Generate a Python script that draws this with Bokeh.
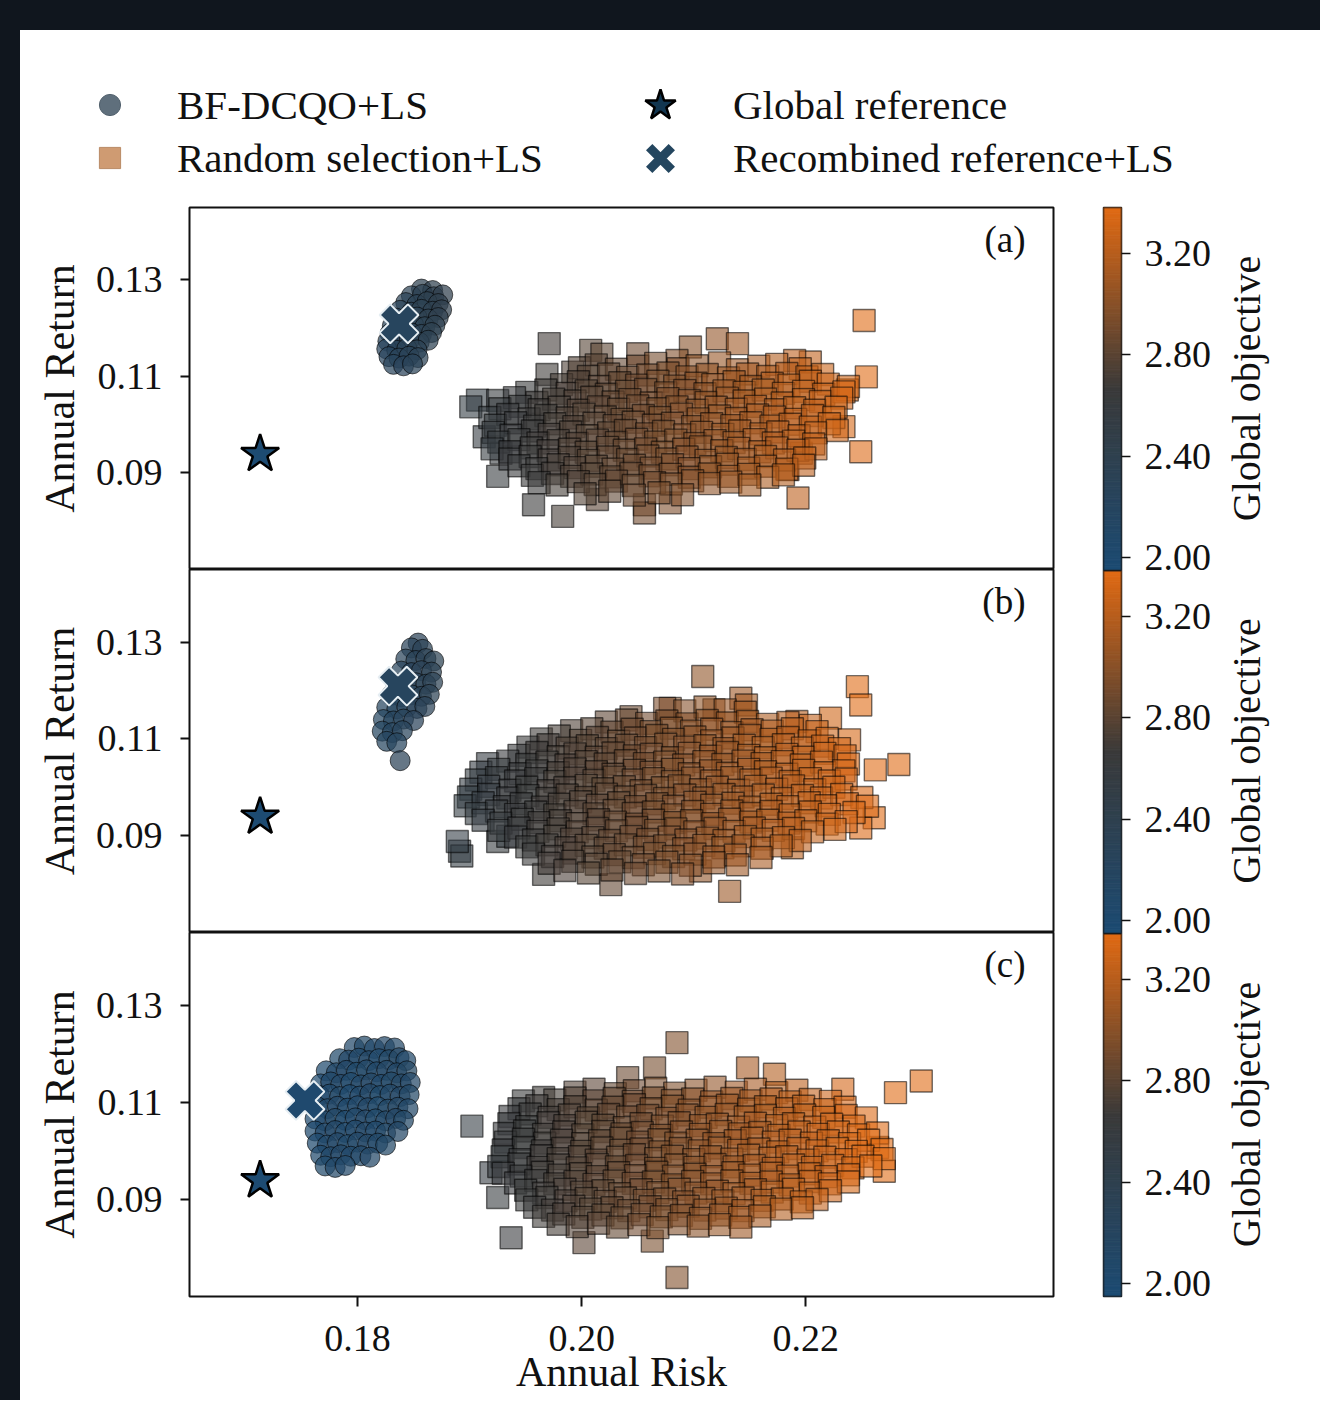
import math
import numpy as np
from bokeh.plotting import figure
from bokeh.models import (Range1d, LinearAxis, FixedTicker, NumeralTickFormatter, CustomJSTickFormatter,
                          ColumnDataSource, Label, Legend, LegendItem, Div)
from bokeh.layouts import column, row
from bokeh.transform import linear_cmap
from bokeh.embed import file_html
from bokeh.resources import INLINE

FONT = "Liberation Serif"
DARK = "#10161e"
INK = "#111111"

# ---------------- axes / scales ----------------
X_START, X_END = 0.165, 0.2421
Y_START, Y_END = 0.0700, 0.1450
X_TICKS = [0.18, 0.20, 0.22]
Y_TICKS = [0.09, 0.11, 0.13]
CB_LOW, CB_HIGH = 1.95, 3.38
CB_TICKS = [2.00, 2.40, 2.80, 3.20]
PANEL_TAGS = ["(a)", "(b)", "(c)"]
SERIES_LABELS = ["BF-DCQO+LS", "Random selection+LS", "Global reference", "Recombined reference+LS"]
X_LABEL, Y_LABEL, CB_LABEL = "Annual Risk", "Annual Return", "Global objective"

# colormap anchors (low -> mid -> high)
C_LO, C_MID, C_HI = (28, 75, 115), (58, 58, 58), (224, 106, 20)

# ---------------- data: (annual risk, annual return, global objective) ----------------
GLOBAL_REF = (0.1713, 0.0939, 1.97)
RECOMBINED = [(0.1837, 0.1209, 2.22), (0.1836, 0.1209, 2.22), (0.1753, 0.1104, 2.02)]

A_BF = [
    (0.1857, 0.1281, 2.38), (0.1867, 0.1278, 2.41),
    (0.1848, 0.1267, 2.33), (0.1858, 0.1270, 2.36), (0.1868, 0.1265, 2.40), (0.1876, 0.1269, 2.43),
    (0.1843, 0.1253, 2.31), (0.1853, 0.1249, 2.34), (0.1862, 0.1255, 2.37), (0.1872, 0.1251, 2.41),
    (0.1838, 0.1237, 2.29), (0.1848, 0.1233, 2.32), (0.1857, 0.1239, 2.35), (0.1867, 0.1235, 2.38), (0.1875, 0.1238, 2.42),
    (0.1834, 0.1221, 2.27), (0.1844, 0.1218, 2.30), (0.1853, 0.1223, 2.33), (0.1863, 0.1219, 2.37), (0.1872, 0.1222, 2.40),
    (0.1831, 0.1205, 2.26), (0.1840, 0.1202, 2.29), (0.1850, 0.1207, 2.32), (0.1860, 0.1203, 2.35), (0.1869, 0.1206, 2.38),
    (0.1829, 0.1189, 2.25), (0.1838, 0.1186, 2.28), (0.1848, 0.1190, 2.31), (0.1857, 0.1187, 2.34), (0.1866, 0.1191, 2.37),
    (0.1827, 0.1173, 2.24), (0.1836, 0.1170, 2.27), (0.1846, 0.1174, 2.30), (0.1855, 0.1171, 2.33), (0.1863, 0.1175, 2.36),
    (0.1826, 0.1157, 2.23), (0.1835, 0.1154, 2.26), (0.1844, 0.1158, 2.29), (0.1853, 0.1155, 2.32),
    (0.1828, 0.1141, 2.23), (0.1837, 0.1138, 2.26), (0.1846, 0.1142, 2.29), (0.1854, 0.1139, 2.31),
    (0.1832, 0.1125, 2.24), (0.1841, 0.1122, 2.27), (0.1849, 0.1126, 2.29),
]

B_BF = [
    (0.1854, 0.1298, 2.30),
    (0.1848, 0.1288, 2.28), (0.1858, 0.1285, 2.31),
    (0.1843, 0.1265, 2.26), (0.1852, 0.1262, 2.29), (0.1861, 0.1266, 2.32), (0.1868, 0.1261, 2.35),
    (0.1839, 0.1240, 2.24), (0.1848, 0.1237, 2.27), (0.1857, 0.1241, 2.30), (0.1866, 0.1238, 2.33),
    (0.1834, 0.1215, 2.22), (0.1843, 0.1212, 2.25), (0.1852, 0.1216, 2.28), (0.1861, 0.1213, 2.31), (0.1867, 0.1217, 2.34),
    (0.1830, 0.1190, 2.20), (0.1839, 0.1187, 2.23), (0.1848, 0.1191, 2.26), (0.1857, 0.1188, 2.29), (0.1864, 0.1192, 2.32),
    (0.1826, 0.1165, 2.19), (0.1835, 0.1162, 2.22), (0.1844, 0.1166, 2.25), (0.1853, 0.1163, 2.28), (0.1860, 0.1167, 2.30),
    (0.1823, 0.1140, 2.18), (0.1832, 0.1137, 2.21), (0.1841, 0.1141, 2.24), (0.1850, 0.1138, 2.27),
    (0.1822, 0.1116, 2.18), (0.1831, 0.1113, 2.21), (0.1840, 0.1117, 2.24),
    (0.1826, 0.1095, 2.19), (0.1835, 0.1092, 2.22),
    (0.1838, 0.1055, 2.30),
]

C_BF = [
    (0.1797, 0.1213, 2.08), (0.1806, 0.1216, 2.10), (0.1815, 0.1211, 2.06), (0.1824, 0.1215, 2.12), (0.1833, 0.1212, 2.09),
    (0.1784, 0.1190, 2.05), (0.1792, 0.1187, 2.11), (0.1801, 0.1191, 2.07), (0.1810, 0.1186, 2.13), (0.1819, 0.1190, 2.04),
    (0.1828, 0.1188, 2.10), (0.1837, 0.1192, 2.14), (0.1843, 0.1186, 2.08),
    (0.1772, 0.1165, 2.03), (0.1781, 0.1161, 2.09), (0.1790, 0.1166, 2.12), (0.1799, 0.1162, 2.05), (0.1808, 0.1167, 2.10),
    (0.1817, 0.1163, 2.07), (0.1826, 0.1166, 2.13), (0.1835, 0.1161, 2.09), (0.1844, 0.1165, 2.15),
    (0.1767, 0.1138, 2.02), (0.1776, 0.1142, 2.08), (0.1785, 0.1137, 2.11), (0.1794, 0.1141, 2.04), (0.1803, 0.1136, 2.09),
    (0.1812, 0.1140, 2.13), (0.1821, 0.1137, 2.06), (0.1830, 0.1142, 2.10), (0.1839, 0.1138, 2.14), (0.1847, 0.1141, 2.11),
    (0.1766, 0.1114, 2.01), (0.1775, 0.1117, 2.06), (0.1784, 0.1112, 2.10), (0.1793, 0.1116, 2.03), (0.1802, 0.1113, 2.08),
    (0.1811, 0.1118, 2.12), (0.1820, 0.1114, 2.05), (0.1829, 0.1117, 2.09), (0.1838, 0.1112, 2.13), (0.1846, 0.1116, 2.10),
    (0.1764, 0.1091, 2.02), (0.1773, 0.1087, 2.07), (0.1782, 0.1092, 2.11), (0.1791, 0.1088, 2.04), (0.1800, 0.1093, 2.08),
    (0.1809, 0.1089, 2.12), (0.1818, 0.1091, 2.05), (0.1827, 0.1086, 2.10), (0.1836, 0.1090, 2.14), (0.1845, 0.1087, 2.09),
    (0.1762, 0.1066, 2.01), (0.1771, 0.1062, 2.06), (0.1780, 0.1067, 2.10), (0.1789, 0.1063, 2.03), (0.1798, 0.1068, 2.08),
    (0.1807, 0.1064, 2.12), (0.1816, 0.1066, 2.05), (0.1825, 0.1062, 2.09), (0.1834, 0.1067, 2.13), (0.1841, 0.1063, 2.10),
    (0.1762, 0.1041, 2.02), (0.1771, 0.1037, 2.07), (0.1780, 0.1042, 2.11), (0.1789, 0.1038, 2.04), (0.1798, 0.1043, 2.08),
    (0.1807, 0.1039, 2.12), (0.1816, 0.1041, 2.06), (0.1825, 0.1037, 2.10), (0.1836, 0.1040, 2.13),
    (0.1764, 0.1016, 2.03), (0.1773, 0.1012, 2.08), (0.1782, 0.1017, 2.11), (0.1791, 0.1013, 2.05), (0.1800, 0.1018, 2.09),
    (0.1809, 0.1014, 2.12), (0.1818, 0.1016, 2.07), (0.1825, 0.1012, 2.10),
    (0.1767, 0.0991, 2.04), (0.1776, 0.0988, 2.08), (0.1785, 0.0992, 2.11), (0.1794, 0.0989, 2.06), (0.1803, 0.0990, 2.09),
    (0.1811, 0.0987, 2.12),
    (0.1771, 0.0969, 2.05), (0.1780, 0.0966, 2.09), (0.1789, 0.0970, 2.07),
]

A_RANDOM = [
    (0.2252, 0.1216, 3.38), (0.1971, 0.1168, 2.70), (0.2008, 0.1154, 2.78), (0.2018, 0.1146, 2.81),
    (0.2050, 0.1147, 2.88), (0.2097, 0.1161, 3.00), (0.2121, 0.1178, 3.05), (0.2139, 0.1168, 3.10),
    (0.1969, 0.1104, 2.69), (0.1992, 0.1109, 2.74), (0.2085, 0.1133, 2.97), (0.2204, 0.1130, 3.25),
    (0.2190, 0.1133, 3.22), (0.2254, 0.1099, 3.38), (0.2237, 0.1072, 3.34), (0.1907, 0.1051, 2.52),
    (0.1901, 0.1037, 2.53), (0.1913, 0.0975, 2.57), (0.1925, 0.0893, 2.60), (0.1928, 0.0941, 2.60),
    (0.1957, 0.0834, 2.66), (0.1983, 0.0810, 2.72), (0.2014, 0.0845, 2.80), (0.2056, 0.0834, 2.90),
    (0.2079, 0.0838, 2.95), (0.2056, 0.0817, 2.90), (0.2193, 0.0848, 3.22), (0.2249, 0.0944, 3.36),
    (0.2234, 0.0996, 3.33), (0.2184, 0.0907, 3.20), (0.2196, 0.0941, 3.23),
    (0.1998, 0.1118, 2.76), (0.2013, 0.1124, 2.79), (0.2031, 0.1115, 2.84), (0.2050, 0.1121, 2.88),
    (0.2066, 0.1127, 2.92), (0.2086, 0.1116, 2.97), (0.2103, 0.1122, 3.01), (0.2123, 0.1128, 3.06),
    (0.2139, 0.1114, 3.10), (0.2158, 0.1121, 3.14), (0.2174, 0.1125, 3.18), (0.2195, 0.1116, 3.23),
    (0.2006, 0.1100, 2.78), (0.2024, 0.1105, 2.82), (0.2041, 0.1098, 2.86), (0.2059, 0.1103, 2.90),
    (0.2077, 0.1107, 2.94), (0.2094, 0.1099, 2.99), (0.2112, 0.1104, 3.03), (0.2131, 0.1097, 3.08),
    (0.2148, 0.1105, 3.12), (0.2166, 0.1100, 3.16), (0.2183, 0.1106, 3.20), (0.2201, 0.1099, 3.24),
    (0.2215, 0.1104, 3.28),
    (0.1982, 0.1083, 2.72), (0.1997, 0.1089, 2.75), (0.2016, 0.1079, 2.80), (0.2034, 0.1087, 2.84),
    (0.2049, 0.1082, 2.88), (0.2068, 0.1090, 2.92), (0.2083, 0.1080, 2.96), (0.2102, 0.1086, 3.01),
    (0.2117, 0.1083, 3.04), (0.2136, 0.1089, 3.09), (0.2151, 0.1079, 3.12), (0.2170, 0.1086, 3.17),
    (0.2185, 0.1082, 3.21), (0.2204, 0.1090, 3.25), (0.2220, 0.1084, 3.29), (0.2238, 0.1079, 3.33),
    (0.1951, 0.1067, 2.65), (0.1968, 0.1072, 2.69), (0.1987, 0.1065, 2.73), (0.2004, 0.1070, 2.77),
    (0.2022, 0.1063, 2.82), (0.2040, 0.1069, 2.86), (0.2057, 0.1073, 2.90), (0.2075, 0.1066, 2.94),
    (0.2092, 0.1071, 2.98), (0.2110, 0.1064, 3.02), (0.2127, 0.1070, 3.07), (0.2145, 0.1067, 3.11),
    (0.2162, 0.1072, 3.15), (0.2180, 0.1065, 3.19), (0.2198, 0.1069, 3.23), (0.2216, 0.1063, 3.28),
    (0.2234, 0.1068, 3.32),
    (0.1925, 0.1050, 2.60), (0.1940, 0.1056, 2.63), (0.1960, 0.1046, 2.68), (0.1975, 0.1053, 2.71),
    (0.1994, 0.1049, 2.75), (0.2009, 0.1057, 2.79), (0.2028, 0.1047, 2.83), (0.2043, 0.1052, 2.87),
    (0.2062, 0.1045, 2.91), (0.2077, 0.1054, 2.95), (0.2096, 0.1050, 2.99), (0.2111, 0.1046, 3.03),
    (0.2130, 0.1055, 3.07), (0.2145, 0.1049, 3.11), (0.2164, 0.1053, 3.15), (0.2179, 0.1045, 3.19),
    (0.2198, 0.1052, 3.23), (0.2213, 0.1048, 3.27), (0.2232, 0.1055, 3.32),
    (0.1927, 0.1033, 2.60), (0.1945, 0.1038, 2.64), (0.1962, 0.1031, 2.68), (0.1980, 0.1036, 2.72),
    (0.1997, 0.1030, 2.76), (0.2015, 0.1037, 2.80), (0.2033, 0.1032, 2.84), (0.2050, 0.1039, 2.88),
    (0.2068, 0.1033, 2.92), (0.2085, 0.1037, 2.97), (0.2103, 0.1030, 3.01), (0.2120, 0.1036, 3.05),
    (0.2138, 0.1032, 3.09), (0.2155, 0.1038, 3.13), (0.2173, 0.1031, 3.17), (0.2190, 0.1035, 3.21),
    (0.2208, 0.1030, 3.25), (0.2227, 0.1036, 3.30),
    (0.1918, 0.1015, 2.58), (0.1934, 0.1021, 2.62), (0.1953, 0.1012, 2.66), (0.1968, 0.1019, 2.69),
    (0.1987, 0.1014, 2.74), (0.2002, 0.1022, 2.77), (0.2021, 0.1016, 2.82), (0.2036, 0.1011, 2.85),
    (0.2055, 0.1019, 2.90), (0.2070, 0.1015, 2.93), (0.2089, 0.1022, 2.98), (0.2104, 0.1012, 3.01),
    (0.2123, 0.1018, 3.06), (0.2138, 0.1013, 3.09), (0.2157, 0.1020, 3.14), (0.2172, 0.1016, 3.17),
    (0.2191, 0.1011, 3.22), (0.2206, 0.1019, 3.25), (0.2225, 0.1015, 3.30),
    (0.1923, 0.0999, 2.59), (0.1941, 0.1004, 2.63), (0.1958, 0.0997, 2.67), (0.1976, 0.1002, 2.71),
    (0.1993, 0.0996, 2.75), (0.2011, 0.1003, 2.79), (0.2029, 0.0998, 2.83), (0.2046, 0.1005, 2.87),
    (0.2064, 0.0999, 2.91), (0.2081, 0.1003, 2.95), (0.2099, 0.0996, 2.99), (0.2116, 0.1002, 3.04),
    (0.2134, 0.0998, 3.08), (0.2151, 0.1004, 3.12), (0.2169, 0.0997, 3.16), (0.2186, 0.1001, 3.20),
    (0.2204, 0.0995, 3.24), (0.2221, 0.1002, 3.28),
    (0.1921, 0.0984, 2.59), (0.1937, 0.0978, 2.62), (0.1956, 0.0987, 2.67), (0.1971, 0.0980, 2.70),
    (0.1990, 0.0985, 2.74), (0.2005, 0.0977, 2.78), (0.2024, 0.0983, 2.82), (0.2039, 0.0988, 2.86),
    (0.2058, 0.0981, 2.90), (0.2073, 0.0986, 2.93), (0.2092, 0.0979, 2.98), (0.2107, 0.0984, 3.01),
    (0.2126, 0.0980, 3.06), (0.2141, 0.0987, 3.09), (0.2160, 0.0981, 3.14), (0.2175, 0.0985, 3.17),
    (0.2194, 0.0977, 3.22), (0.2209, 0.0983, 3.25), (0.2228, 0.0988, 3.30),
    (0.1926, 0.0964, 2.60), (0.1944, 0.0969, 2.64), (0.1961, 0.0962, 2.68), (0.1979, 0.0967, 2.72),
    (0.1996, 0.0961, 2.76), (0.2014, 0.0968, 2.80), (0.2031, 0.0963, 2.84), (0.2049, 0.0970, 2.88),
    (0.2066, 0.0964, 2.92), (0.2084, 0.0968, 2.96), (0.2101, 0.0961, 3.00), (0.2119, 0.0967, 3.04),
    (0.2136, 0.0963, 3.08), (0.2154, 0.0969, 3.13), (0.2171, 0.0962, 3.17), (0.2189, 0.0966, 3.21),
    (0.2207, 0.0960, 3.25),
    (0.1920, 0.0950, 2.58), (0.1936, 0.0944, 2.62), (0.1955, 0.0952, 2.67), (0.1970, 0.0946, 2.70),
    (0.1989, 0.0949, 2.74), (0.2004, 0.0943, 2.78), (0.2023, 0.0953, 2.82), (0.2038, 0.0947, 2.86),
    (0.2057, 0.0950, 2.90), (0.2072, 0.0943, 2.93), (0.2091, 0.0949, 2.98), (0.2106, 0.0954, 3.01),
    (0.2125, 0.0946, 3.06), (0.2140, 0.0951, 3.09), (0.2159, 0.0944, 3.14), (0.2174, 0.0952, 3.17),
    (0.2193, 0.0947, 3.22), (0.2209, 0.0950, 3.25),
    (0.1936, 0.0929, 2.62), (0.1954, 0.0934, 2.66), (0.1971, 0.0927, 2.70), (0.1989, 0.0932, 2.74),
    (0.2006, 0.0926, 2.78), (0.2024, 0.0933, 2.82), (0.2041, 0.0928, 2.86), (0.2059, 0.0935, 2.90),
    (0.2076, 0.0929, 2.94), (0.2094, 0.0933, 2.98), (0.2111, 0.0926, 3.02), (0.2129, 0.0932, 3.06),
    (0.2146, 0.0928, 3.10), (0.2164, 0.0934, 3.15), (0.2181, 0.0927, 3.19), (0.2199, 0.0931, 3.23),
    (0.1944, 0.0915, 2.64), (0.1960, 0.0909, 2.67), (0.1979, 0.0917, 2.72), (0.1994, 0.0911, 2.75),
    (0.2013, 0.0914, 2.79), (0.2028, 0.0908, 2.83), (0.2047, 0.0916, 2.87), (0.2062, 0.0910, 2.90),
    (0.2081, 0.0917, 2.95), (0.2096, 0.0909, 2.98), (0.2115, 0.0913, 3.03), (0.2130, 0.0918, 3.06),
    (0.2149, 0.0910, 3.11), (0.2164, 0.0914, 3.14), (0.2183, 0.0908, 3.19), (0.2198, 0.0916, 3.22),
    (0.1956, 0.0895, 2.66), (0.1974, 0.0899, 2.70), (0.1991, 0.0893, 2.74), (0.2009, 0.0898, 2.78),
    (0.2026, 0.0892, 2.82), (0.2044, 0.0899, 2.86), (0.2061, 0.0894, 2.90), (0.2079, 0.0897, 2.94),
    (0.2096, 0.0891, 2.98), (0.2114, 0.0898, 3.03), (0.2131, 0.0893, 3.07), (0.2149, 0.0897, 3.11),
    (0.2166, 0.0891, 3.15), (0.2180, 0.0896, 3.18),
    (0.1962, 0.0880, 2.67), (0.1978, 0.0875, 2.71), (0.1997, 0.0882, 2.75), (0.2012, 0.0876, 2.79),
    (0.2031, 0.0883, 2.83), (0.2046, 0.0874, 2.86), (0.2065, 0.0880, 2.91), (0.2080, 0.0877, 2.94),
    (0.2099, 0.0884, 2.99), (0.2114, 0.0878, 3.02), (0.2133, 0.0881, 3.07), (0.2150, 0.0875, 3.11),
    (0.2003, 0.0857, 2.77), (0.2025, 0.0862, 2.82), (0.2047, 0.0854, 2.87), (0.2069, 0.0859, 2.92),
    (0.2090, 0.0855, 2.97),
]

B_RANDOM = [
    (0.2108, 0.1229, 3.03), (0.2246, 0.1208, 3.38), (0.2249, 0.1170, 3.38), (0.2222, 0.1143, 3.30),
    (0.2239, 0.1098, 3.33), (0.2262, 0.1036, 3.38), (0.2283, 0.1047, 3.38), (0.2261, 0.0937, 3.38),
    (0.2249, 0.0916, 3.36), (0.2188, 0.0875, 3.21), (0.2132, 0.0785, 3.08), (0.2106, 0.0827, 3.02),
    (0.1966, 0.0820, 2.69), (0.2026, 0.0799, 2.83), (0.1891, 0.0868, 2.52), (0.1893, 0.0858, 2.53),
    (0.1889, 0.0888, 2.51), (0.1925, 0.0888, 2.60), (0.1934, 0.0899, 2.55), (0.2079, 0.1163, 2.96),
    (0.2142, 0.1184, 3.10), (0.2147, 0.1170, 3.11), (0.2118, 0.1160, 3.04), (0.2044, 0.1146, 2.87),
    (0.2192, 0.1136, 3.22),
    (0.2074, 0.1163, 2.95), (0.2092, 0.1158, 2.99), (0.2110, 0.1166, 3.03), (0.2128, 0.1160, 3.07),
    (0.2146, 0.1155, 3.11),
    (0.2022, 0.1135, 2.82), (0.2040, 0.1139, 2.86), (0.2058, 0.1132, 2.90), (0.2076, 0.1137, 2.94),
    (0.2094, 0.1131, 2.99), (0.2112, 0.1138, 3.03), (0.2130, 0.1133, 3.07), (0.2148, 0.1136, 3.11),
    (0.2166, 0.1130, 3.16), (0.2184, 0.1134, 3.20), (0.2204, 0.1128, 3.25),
    (0.1991, 0.1117, 2.75), (0.2009, 0.1121, 2.79), (0.2027, 0.1114, 2.83), (0.2045, 0.1120, 2.88),
    (0.2062, 0.1115, 2.92), (0.2080, 0.1122, 2.96), (0.2098, 0.1116, 3.00), (0.2116, 0.1120, 3.04),
    (0.2134, 0.1113, 3.08), (0.2152, 0.1119, 3.13), (0.2170, 0.1116, 3.17), (0.2188, 0.1121, 3.21),
    (0.2210, 0.1115, 3.26),
    (0.1964, 0.1100, 2.69), (0.1980, 0.1106, 2.72), (0.1999, 0.1097, 2.77), (0.2014, 0.1103, 2.80),
    (0.2033, 0.1095, 2.85), (0.2048, 0.1102, 2.88), (0.2067, 0.1107, 2.93), (0.2082, 0.1099, 2.96),
    (0.2101, 0.1104, 3.01), (0.2116, 0.1096, 3.04), (0.2135, 0.1102, 3.08), (0.2150, 0.1107, 3.12),
    (0.2169, 0.1099, 3.16), (0.2184, 0.1103, 3.20), (0.2203, 0.1096, 3.24), (0.2219, 0.1101, 3.28),
    (0.1952, 0.1083, 2.66), (0.1970, 0.1088, 2.70), (0.1987, 0.1081, 2.74), (0.2005, 0.1086, 2.78),
    (0.2022, 0.1080, 2.82), (0.2040, 0.1087, 2.86), (0.2057, 0.1082, 2.90), (0.2075, 0.1089, 2.94),
    (0.2092, 0.1083, 2.98), (0.2110, 0.1086, 3.03), (0.2127, 0.1080, 3.07), (0.2145, 0.1087, 3.11),
    (0.2162, 0.1082, 3.15), (0.2180, 0.1088, 3.19), (0.2197, 0.1081, 3.23), (0.2215, 0.1085, 3.27),
    (0.2230, 0.1080, 3.31),
    (0.1944, 0.1066, 2.64), (0.1960, 0.1072, 2.68), (0.1979, 0.1063, 2.72), (0.1994, 0.1069, 2.75),
    (0.2013, 0.1062, 2.80), (0.2028, 0.1071, 2.83), (0.2047, 0.1065, 2.88), (0.2062, 0.1068, 2.91),
    (0.2081, 0.1061, 2.96), (0.2096, 0.1070, 2.99), (0.2115, 0.1064, 3.04), (0.2130, 0.1072, 3.07),
    (0.2149, 0.1066, 3.12), (0.2164, 0.1061, 3.15), (0.2183, 0.1068, 3.20), (0.2198, 0.1062, 3.23),
    (0.2217, 0.1070, 3.28), (0.2235, 0.1065, 3.32),
    (0.1916, 0.1049, 2.57), (0.1934, 0.1054, 2.61), (0.1951, 0.1047, 2.65), (0.1969, 0.1052, 2.69),
    (0.1986, 0.1046, 2.73), (0.2004, 0.1053, 2.77), (0.2021, 0.1048, 2.82), (0.2039, 0.1055, 2.86),
    (0.2056, 0.1049, 2.90), (0.2074, 0.1052, 2.94), (0.2091, 0.1046, 2.98), (0.2109, 0.1053, 3.02),
    (0.2126, 0.1047, 3.06), (0.2144, 0.1054, 3.10), (0.2161, 0.1049, 3.14), (0.2179, 0.1053, 3.19),
    (0.2196, 0.1046, 3.23), (0.2214, 0.1052, 3.27), (0.2238, 0.1048, 3.33),
    (0.1910, 0.1031, 2.56), (0.1926, 0.1037, 2.59), (0.1945, 0.1028, 2.64), (0.1960, 0.1034, 2.67),
    (0.1979, 0.1030, 2.72), (0.1994, 0.1038, 2.75), (0.2013, 0.1032, 2.80), (0.2028, 0.1027, 2.83),
    (0.2047, 0.1035, 2.88), (0.2062, 0.1031, 2.91), (0.2081, 0.1037, 2.96), (0.2096, 0.1028, 2.99),
    (0.2115, 0.1034, 3.04), (0.2130, 0.1029, 3.07), (0.2149, 0.1037, 3.12), (0.2164, 0.1032, 3.15),
    (0.2183, 0.1027, 3.20), (0.2198, 0.1035, 3.23), (0.2217, 0.1030, 3.28), (0.2234, 0.1034, 3.32),
    (0.1906, 0.1015, 2.55), (0.1924, 0.1020, 2.59), (0.1941, 0.1013, 2.63), (0.1959, 0.1018, 2.67),
    (0.1976, 0.1012, 2.71), (0.1994, 0.1019, 2.75), (0.2011, 0.1014, 2.79), (0.2029, 0.1021, 2.84),
    (0.2046, 0.1015, 2.88), (0.2064, 0.1018, 2.92), (0.2081, 0.1012, 2.96), (0.2099, 0.1019, 3.00),
    (0.2116, 0.1013, 3.04), (0.2134, 0.1020, 3.08), (0.2151, 0.1015, 3.12), (0.2169, 0.1019, 3.17),
    (0.2186, 0.1012, 3.21), (0.2204, 0.1018, 3.25), (0.2221, 0.1013, 3.29), (0.2236, 0.1017, 3.32),
    (0.1901, 0.0996, 2.54), (0.1917, 0.1002, 2.57), (0.1936, 0.0994, 2.62), (0.1951, 0.1000, 2.65),
    (0.1970, 0.0993, 2.70), (0.1985, 0.0999, 2.73), (0.2004, 0.1004, 2.77), (0.2019, 0.0997, 2.81),
    (0.2038, 0.1001, 2.85), (0.2053, 0.0993, 2.89), (0.2072, 0.0999, 2.93), (0.2087, 0.1003, 2.96),
    (0.2106, 0.0995, 3.01), (0.2121, 0.1000, 3.04), (0.2140, 0.0994, 3.09), (0.2155, 0.1002, 3.12),
    (0.2174, 0.0996, 3.17), (0.2189, 0.1003, 3.20), (0.2208, 0.0995, 3.25), (0.2225, 0.1000, 3.29),
    (0.1899, 0.0980, 2.53), (0.1917, 0.0985, 2.57), (0.1934, 0.0978, 2.61), (0.1952, 0.0983, 2.65),
    (0.1969, 0.0977, 2.69), (0.1987, 0.0984, 2.74), (0.2004, 0.0979, 2.78), (0.2022, 0.0986, 2.82),
    (0.2039, 0.0980, 2.86), (0.2057, 0.0983, 2.90), (0.2074, 0.0977, 2.94), (0.2092, 0.0984, 2.98),
    (0.2109, 0.0978, 3.02), (0.2127, 0.0985, 3.06), (0.2144, 0.0980, 3.10), (0.2162, 0.0984, 3.15),
    (0.2179, 0.0977, 3.19), (0.2197, 0.0983, 3.23), (0.2214, 0.0978, 3.27), (0.2232, 0.0985, 3.31),
    (0.2250, 0.0979, 3.35),
    (0.1896, 0.0962, 2.53), (0.1912, 0.0968, 2.56), (0.1931, 0.0960, 2.61), (0.1946, 0.0966, 2.64),
    (0.1965, 0.0959, 2.68), (0.1980, 0.0965, 2.72), (0.1999, 0.0970, 2.76), (0.2014, 0.0963, 2.80),
    (0.2033, 0.0968, 2.84), (0.2048, 0.0960, 2.88), (0.2067, 0.0966, 2.92), (0.2082, 0.0961, 2.95),
    (0.2101, 0.0969, 3.00), (0.2116, 0.0963, 3.03), (0.2135, 0.0967, 3.08), (0.2150, 0.0959, 3.11),
    (0.2169, 0.0965, 3.16), (0.2184, 0.0960, 3.19), (0.2203, 0.0968, 3.24), (0.2218, 0.0962, 3.27),
    (0.2237, 0.0966, 3.32), (0.2255, 0.0961, 3.36),
    (0.1906, 0.0946, 2.55), (0.1924, 0.0951, 2.59), (0.1941, 0.0944, 2.63), (0.1959, 0.0949, 2.67),
    (0.1976, 0.0943, 2.71), (0.1994, 0.0950, 2.75), (0.2011, 0.0945, 2.79), (0.2029, 0.0952, 2.84),
    (0.2046, 0.0946, 2.88), (0.2064, 0.0949, 2.92), (0.2081, 0.0943, 2.96), (0.2099, 0.0950, 3.00),
    (0.2116, 0.0944, 3.04), (0.2134, 0.0951, 3.08), (0.2151, 0.0946, 3.12), (0.2169, 0.0950, 3.17),
    (0.2186, 0.0943, 3.21), (0.2204, 0.0949, 3.25), (0.2221, 0.0944, 3.29), (0.2243, 0.0948, 3.34),
    (0.1912, 0.0932, 2.57), (0.1928, 0.0926, 2.60), (0.1947, 0.0934, 2.65), (0.1962, 0.0927, 2.68),
    (0.1981, 0.0931, 2.72), (0.1996, 0.0925, 2.76), (0.2015, 0.0933, 2.80), (0.2030, 0.0928, 2.84),
    (0.2049, 0.0924, 2.88), (0.2064, 0.0932, 2.91), (0.2083, 0.0927, 2.96), (0.2098, 0.0931, 2.99),
    (0.2117, 0.0925, 3.04), (0.2132, 0.0934, 3.07), (0.2151, 0.0928, 3.12), (0.2166, 0.0932, 3.15),
    (0.2185, 0.0926, 3.20), (0.2200, 0.0931, 3.23), (0.2219, 0.0924, 3.28), (0.2236, 0.0929, 3.32),
    (0.1926, 0.0911, 2.60), (0.1944, 0.0916, 2.64), (0.1961, 0.0909, 2.68), (0.1979, 0.0914, 2.72),
    (0.1996, 0.0908, 2.76), (0.2014, 0.0915, 2.80), (0.2031, 0.0910, 2.84), (0.2049, 0.0917, 2.88),
    (0.2066, 0.0911, 2.92), (0.2084, 0.0914, 2.96), (0.2101, 0.0908, 3.00), (0.2119, 0.0915, 3.04),
    (0.2136, 0.0909, 3.08), (0.2154, 0.0916, 3.13), (0.2171, 0.0911, 3.17), (0.2189, 0.0915, 3.21),
    (0.2206, 0.0908, 3.25), (0.2226, 0.0913, 3.30),
    (0.1941, 0.0897, 2.63), (0.1957, 0.0891, 2.67), (0.1976, 0.0899, 2.71), (0.1991, 0.0893, 2.75),
    (0.2010, 0.0896, 2.79), (0.2025, 0.0890, 2.83), (0.2044, 0.0898, 2.87), (0.2059, 0.0892, 2.90),
    (0.2078, 0.0897, 2.95), (0.2093, 0.0891, 2.98), (0.2112, 0.0895, 3.03), (0.2127, 0.0890, 3.06),
    (0.2146, 0.0898, 3.11), (0.2161, 0.0893, 3.14), (0.2180, 0.0896, 3.19), (0.2195, 0.0890, 3.22),
    (0.1951, 0.0877, 2.65), (0.1969, 0.0881, 2.69), (0.1986, 0.0875, 2.73), (0.2004, 0.0880, 2.78),
    (0.2021, 0.0874, 2.82), (0.2039, 0.0881, 2.86), (0.2056, 0.0876, 2.90), (0.2074, 0.0879, 2.94),
    (0.2091, 0.0873, 2.98), (0.2109, 0.0880, 3.02), (0.2126, 0.0875, 3.06), (0.2144, 0.0879, 3.10),
    (0.2161, 0.0874, 3.14), (0.2178, 0.0879, 3.18),
    (0.1957, 0.0862, 2.66), (0.1974, 0.0857, 2.70), (0.1993, 0.0864, 2.75), (0.2010, 0.0856, 2.79),
    (0.2029, 0.0861, 2.83), (0.2046, 0.0855, 2.87), (0.2065, 0.0863, 2.92), (0.2082, 0.0857, 2.96),
    (0.2101, 0.0862, 3.00), (0.2118, 0.0856, 3.04), (0.2137, 0.0860, 3.09), (0.2160, 0.0855, 3.14),
    (0.1971, 0.0843, 2.70), (0.1992, 0.0847, 2.74), (0.2013, 0.0841, 2.79), (0.2034, 0.0846, 2.84),
    (0.2055, 0.0840, 2.89), (0.2076, 0.0845, 2.94), (0.2097, 0.0839, 2.99), (0.2118, 0.0844, 3.04),
    (0.2139, 0.0840, 3.09),
    (0.1985, 0.0828, 2.73), (0.2006, 0.0823, 2.78), (0.2027, 0.0829, 2.83), (0.2048, 0.0822, 2.88),
    (0.2069, 0.0827, 2.93), (0.2090, 0.0821, 2.98),
]

C_RANDOM = [
    (0.2085, 0.1223, 2.97), (0.2085, 0.0739, 2.97), (0.1902, 0.1051, 2.54), (0.2303, 0.1144, 3.38),
    (0.2280, 0.1120, 3.38), (0.2233, 0.1127, 3.32), (0.1937, 0.0821, 2.61), (0.1925, 0.0904, 2.59),
    (0.1919, 0.0955, 2.57), (0.2270, 0.0958, 3.38), (0.2264, 0.1007, 3.37), (0.2002, 0.0811, 2.80),
    (0.2063, 0.0814, 2.93), (0.2065, 0.1171, 2.92), (0.2041, 0.1151, 2.87), (0.2148, 0.1171, 3.13),
    (0.2172, 0.1158, 3.18), (0.1948, 0.1103, 2.65), (0.1966, 0.1110, 2.69),
    (0.1994, 0.1121, 2.76), (0.2011, 0.1127, 2.80), (0.2030, 0.1118, 2.84), (0.2047, 0.1124, 2.88),
    (0.2066, 0.1129, 2.93), (0.2083, 0.1119, 2.96), (0.2102, 0.1125, 3.01), (0.2119, 0.1131, 3.05),
    (0.2138, 0.1121, 3.09), (0.2155, 0.1127, 3.13), (0.2174, 0.1120, 3.18), (0.2192, 0.1125, 3.22),
    (0.1976, 0.1105, 2.71), (0.1994, 0.1109, 2.76), (0.2011, 0.1103, 2.80), (0.2029, 0.1108, 2.84),
    (0.2046, 0.1102, 2.88), (0.2064, 0.1109, 2.92), (0.2081, 0.1104, 2.96), (0.2099, 0.1107, 3.00),
    (0.2116, 0.1101, 3.04), (0.2134, 0.1108, 3.08), (0.2151, 0.1103, 3.12), (0.2169, 0.1107, 3.17),
    (0.2186, 0.1101, 3.21), (0.2204, 0.1106, 3.25), (0.2222, 0.1102, 3.29),
    (0.1944, 0.1087, 2.64), (0.1960, 0.1093, 2.68), (0.1979, 0.1085, 2.72), (0.1994, 0.1091, 2.76),
    (0.2013, 0.1084, 2.80), (0.2028, 0.1090, 2.84), (0.2047, 0.1095, 2.88), (0.2062, 0.1087, 2.92),
    (0.2081, 0.1092, 2.96), (0.2096, 0.1084, 2.99), (0.2115, 0.1090, 3.04), (0.2130, 0.1094, 3.07),
    (0.2149, 0.1086, 3.12), (0.2164, 0.1091, 3.15), (0.2183, 0.1087, 3.20), (0.2198, 0.1092, 3.23),
    (0.2217, 0.1085, 3.28), (0.2235, 0.1090, 3.32),
    (0.1936, 0.1071, 2.62), (0.1954, 0.1076, 2.66), (0.1971, 0.1069, 2.70), (0.1989, 0.1074, 2.75),
    (0.2006, 0.1068, 2.79), (0.2024, 0.1075, 2.83), (0.2041, 0.1070, 2.87), (0.2059, 0.1073, 2.91),
    (0.2076, 0.1067, 2.95), (0.2094, 0.1074, 2.99), (0.2111, 0.1069, 3.03), (0.2129, 0.1075, 3.07),
    (0.2146, 0.1070, 3.11), (0.2164, 0.1073, 3.15), (0.2181, 0.1067, 3.19), (0.2199, 0.1074, 3.24),
    (0.2216, 0.1069, 3.28), (0.2236, 0.1073, 3.32), (0.2254, 0.1068, 3.36),
    (0.1935, 0.1056, 2.62), (0.1951, 0.1050, 2.65), (0.1970, 0.1058, 2.70), (0.1985, 0.1052, 2.73),
    (0.2004, 0.1059, 2.78), (0.2019, 0.1053, 2.81), (0.2038, 0.1048, 2.86), (0.2053, 0.1056, 2.89),
    (0.2072, 0.1051, 2.94), (0.2087, 0.1058, 2.97), (0.2106, 0.1052, 3.02), (0.2121, 0.1055, 3.05),
    (0.2140, 0.1049, 3.10), (0.2155, 0.1057, 3.13), (0.2174, 0.1052, 3.18), (0.2189, 0.1056, 3.21),
    (0.2208, 0.1049, 3.26), (0.2223, 0.1055, 3.29), (0.2243, 0.1051, 3.34),
    (0.1931, 0.1036, 2.61), (0.1949, 0.1041, 2.65), (0.1966, 0.1034, 2.69), (0.1984, 0.1039, 2.73),
    (0.2001, 0.1033, 2.77), (0.2019, 0.1040, 2.81), (0.2036, 0.1035, 2.85), (0.2054, 0.1038, 2.90),
    (0.2071, 0.1032, 2.94), (0.2089, 0.1039, 2.98), (0.2106, 0.1034, 3.02), (0.2124, 0.1040, 3.06),
    (0.2141, 0.1035, 3.10), (0.2159, 0.1038, 3.14), (0.2176, 0.1032, 3.18), (0.2194, 0.1039, 3.23),
    (0.2211, 0.1034, 3.27), (0.2229, 0.1039, 3.31), (0.2247, 0.1033, 3.35), (0.2264, 0.1037, 3.38),
    (0.1932, 0.1018, 2.61), (0.1948, 0.1024, 2.65), (0.1967, 0.1016, 2.69), (0.1982, 0.1022, 2.73),
    (0.2001, 0.1015, 2.77), (0.2016, 0.1021, 2.81), (0.2035, 0.1026, 2.85), (0.2050, 0.1018, 2.88),
    (0.2069, 0.1023, 2.93), (0.2084, 0.1016, 2.96), (0.2103, 0.1022, 3.01), (0.2118, 0.1015, 3.04),
    (0.2137, 0.1021, 3.09), (0.2152, 0.1026, 3.12), (0.2171, 0.1018, 3.17), (0.2186, 0.1022, 3.20),
    (0.2205, 0.1016, 3.25), (0.2220, 0.1021, 3.28), (0.2239, 0.1015, 3.33), (0.2256, 0.1022, 3.37),
    (0.1930, 0.1002, 2.61), (0.1948, 0.1007, 2.65), (0.1965, 0.1000, 2.68), (0.1983, 0.1005, 2.73),
    (0.2000, 0.0999, 2.77), (0.2018, 0.1006, 2.81), (0.2035, 0.1001, 2.85), (0.2053, 0.1004, 2.89),
    (0.2070, 0.0998, 2.93), (0.2088, 0.1005, 2.97), (0.2105, 0.1000, 3.01), (0.2123, 0.1006, 3.06),
    (0.2140, 0.1001, 3.10), (0.2158, 0.1004, 3.14), (0.2175, 0.0998, 3.18), (0.2193, 0.1005, 3.22),
    (0.2210, 0.1000, 3.26), (0.2228, 0.1005, 3.30), (0.2245, 0.0999, 3.34), (0.2268, 0.1003, 3.38),
    (0.1929, 0.0988, 2.60), (0.1945, 0.0982, 2.64), (0.1964, 0.0990, 2.68), (0.1979, 0.0984, 2.72),
    (0.1998, 0.0988, 2.76), (0.2013, 0.0981, 2.80), (0.2032, 0.0987, 2.84), (0.2047, 0.0992, 2.88),
    (0.2066, 0.0984, 2.92), (0.2081, 0.0989, 2.96), (0.2100, 0.0982, 3.00), (0.2115, 0.0988, 3.04),
    (0.2134, 0.0983, 3.08), (0.2149, 0.0991, 3.11), (0.2168, 0.0985, 3.16), (0.2183, 0.0988, 3.19),
    (0.2202, 0.0981, 3.24), (0.2217, 0.0987, 3.27), (0.2236, 0.0982, 3.32), (0.2251, 0.0989, 3.35),
    (0.2270, 0.0984, 3.38),
    (0.1926, 0.0968, 2.60), (0.1944, 0.0973, 2.64), (0.1961, 0.0966, 2.68), (0.1979, 0.0971, 2.72),
    (0.1996, 0.0965, 2.76), (0.2014, 0.0972, 2.80), (0.2031, 0.0967, 2.84), (0.2049, 0.0970, 2.88),
    (0.2066, 0.0964, 2.92), (0.2084, 0.0971, 2.96), (0.2101, 0.0966, 3.00), (0.2119, 0.0972, 3.04),
    (0.2136, 0.0967, 3.08), (0.2154, 0.0970, 3.13), (0.2171, 0.0964, 3.17), (0.2189, 0.0971, 3.21),
    (0.2206, 0.0966, 3.25), (0.2224, 0.0970, 3.29), (0.2242, 0.0965, 3.33), (0.2258, 0.0969, 3.37),
    (0.1930, 0.0954, 2.61), (0.1946, 0.0948, 2.64), (0.1965, 0.0956, 2.69), (0.1980, 0.0950, 2.72),
    (0.1999, 0.0953, 2.77), (0.2014, 0.0947, 2.80), (0.2033, 0.0955, 2.85), (0.2048, 0.0949, 2.88),
    (0.2067, 0.0956, 2.93), (0.2082, 0.0948, 2.96), (0.2101, 0.0952, 3.00), (0.2116, 0.0947, 3.04),
    (0.2135, 0.0955, 3.08), (0.2150, 0.0950, 3.11), (0.2169, 0.0954, 3.16), (0.2184, 0.0948, 3.19),
    (0.2203, 0.0953, 3.24), (0.2218, 0.0947, 3.27), (0.2238, 0.0951, 3.32),
    (0.1941, 0.0934, 2.63), (0.1959, 0.0939, 2.67), (0.1976, 0.0932, 2.71), (0.1994, 0.0937, 2.76),
    (0.2011, 0.0931, 2.80), (0.2029, 0.0938, 2.84), (0.2046, 0.0933, 2.88), (0.2064, 0.0936, 2.92),
    (0.2081, 0.0930, 2.96), (0.2099, 0.0937, 3.00), (0.2116, 0.0932, 3.04), (0.2134, 0.0938, 3.08),
    (0.2151, 0.0933, 3.12), (0.2169, 0.0936, 3.17), (0.2186, 0.0930, 3.21), (0.2204, 0.0937, 3.25),
    (0.2221, 0.0932, 3.29), (0.2238, 0.0936, 3.33),
    (0.1950, 0.0919, 2.65), (0.1966, 0.0913, 2.68), (0.1985, 0.0921, 2.73), (0.2000, 0.0915, 2.77),
    (0.2019, 0.0918, 2.81), (0.2034, 0.0912, 2.84), (0.2053, 0.0920, 2.89), (0.2068, 0.0914, 2.92),
    (0.2087, 0.0921, 2.97), (0.2102, 0.0913, 3.00), (0.2121, 0.0917, 3.05), (0.2136, 0.0912, 3.08),
    (0.2155, 0.0920, 3.13), (0.2170, 0.0915, 3.16), (0.2189, 0.0921, 3.21), (0.2204, 0.0913, 3.24),
    (0.2222, 0.0918, 3.29),
    (0.1951, 0.0899, 2.65), (0.1969, 0.0904, 2.69), (0.1986, 0.0897, 2.73), (0.2004, 0.0902, 2.78),
    (0.2021, 0.0896, 2.82), (0.2039, 0.0903, 2.86), (0.2056, 0.0898, 2.90), (0.2074, 0.0901, 2.94),
    (0.2091, 0.0895, 2.98), (0.2109, 0.0902, 3.02), (0.2126, 0.0897, 3.06), (0.2144, 0.0903, 3.10),
    (0.2161, 0.0898, 3.14), (0.2179, 0.0901, 3.19), (0.2196, 0.0895, 3.23), (0.2210, 0.0900, 3.26),
    (0.1958, 0.0884, 2.67), (0.1974, 0.0878, 2.70), (0.1993, 0.0886, 2.75), (0.2008, 0.0880, 2.78),
    (0.2027, 0.0883, 2.83), (0.2042, 0.0877, 2.86), (0.2061, 0.0885, 2.91), (0.2076, 0.0879, 2.94),
    (0.2095, 0.0886, 2.99), (0.2110, 0.0878, 3.02), (0.2129, 0.0882, 3.07), (0.2144, 0.0877, 3.10),
    (0.2163, 0.0885, 3.15), (0.2178, 0.0880, 3.18), (0.2197, 0.0883, 3.23),
    (0.1966, 0.0865, 2.69), (0.1984, 0.0870, 2.73), (0.2001, 0.0863, 2.77), (0.2019, 0.0868, 2.81),
    (0.2036, 0.0862, 2.85), (0.2054, 0.0869, 2.89), (0.2071, 0.0864, 2.93), (0.2089, 0.0867, 2.97),
    (0.2106, 0.0861, 3.01), (0.2124, 0.0868, 3.05), (0.2141, 0.0863, 3.09), (0.2159, 0.0866, 3.14),
    (0.1979, 0.0849, 2.72), (0.1996, 0.0844, 2.76), (0.2015, 0.0851, 2.80), (0.2032, 0.0843, 2.84),
    (0.2051, 0.0848, 2.89), (0.2068, 0.0842, 2.93), (0.2087, 0.0850, 2.97), (0.2104, 0.0845, 3.01),
    (0.2123, 0.0848, 3.06), (0.2142, 0.0843, 3.10),
]

PANELS = [
    (A_RANDOM, A_BF, RECOMBINED[0]),
    (B_RANDOM, B_BF, RECOMBINED[1]),
    (C_RANDOM, C_BF, RECOMBINED[2]),
]


# ---------------- colour map ----------------
def _lerp_hex(t):
    if t <= 0.5:
        a, b, u = C_LO, C_MID, t / 0.5
    else:
        a, b, u = C_MID, C_HI, (t - 0.5) / 0.5
    return "#%02x%02x%02x" % tuple(int(round(a[i] + (b[i] - a[i]) * u)) for i in range(3))


PALETTE = [_lerp_hex(i / 255) for i in range(256)]


def cmap(field):
    return linear_cmap(field, PALETTE, CB_LOW, CB_HIGH)


def to_source(rows):
    r, ret, obj = zip(*rows)
    return ColumnDataSource(dict(risk=list(r), ret=list(ret), obj=list(obj)))


def style_axis(ax, ticks, standoff, tick_out, tick_size="38px"):
    ax.ticker = FixedTicker(ticks=ticks)
    ax.major_tick_in = 0
    ax.major_tick_out = tick_out
    ax.major_tick_line_width = 2
    ax.major_tick_line_color = INK
    ax.minor_tick_line_color = None
    ax.axis_line_color = None
    ax.major_label_text_font = FONT
    ax.major_label_text_font_size = tick_size
    ax.major_label_text_color = INK
    ax.major_label_standoff = standoff
    ax.axis_label_text_font = FONT
    ax.axis_label_text_font_size = "42px"
    ax.axis_label_text_font_style = "normal"
    ax.axis_label_text_color = INK


# ---------------- geometry ----------------
PANEL_W, CBAR_W, TITLE_W = 1036, 164, 100
H_A, H_B, H_C = 363, 363, 468          # figure heights of the three rows
TOP_A, BOTTOM_C = 1, 104


def make_panel(idx, height, top, bottom, with_x):
    random_rows, bf_rows, recomb = PANELS[idx]
    p = figure(width=PANEL_W, height=height,
               x_range=Range1d(X_START, X_END), y_range=Range1d(Y_START, Y_END),
               output_backend="svg", toolbar_location=None,
               x_axis_location="below" if with_x else None, y_axis_location="left",
               min_border_left=169, min_border_right=3,
               min_border_top=top, min_border_bottom=bottom,
               background_fill_color="white", border_fill_color="white",
               outline_line_color=INK, outline_line_width=2)
    p.grid.visible = False

    ya = p.yaxis[0]
    style_axis(ya, Y_TICKS, 18, 9)
    ya.formatter = NumeralTickFormatter(format="0.00")
    ya.axis_label = Y_LABEL
    ya.axis_label_standoff = 10
    if with_x:
        xa = p.xaxis[0]
        style_axis(xa, X_TICKS, 19, 10)
        xa.formatter = NumeralTickFormatter(format="0.00")
        xa.axis_label = X_LABEL
        xa.axis_label_standoff = -5

    p.scatter("risk", "ret", source=to_source(random_rows), marker="square", size=22,
              fill_color=cmap("obj"), fill_alpha=0.6,
              line_color="#000000", line_alpha=0.55, line_width=1.4)
    p.scatter("risk", "ret", source=to_source(bf_rows), marker="circle", size=20,
              fill_color=cmap("obj"), fill_alpha=0.72,
              line_color="#000000", line_alpha=0.6, line_width=1.0)
    p.scatter("risk", "ret", source=to_source([GLOBAL_REF]), marker="star", size=40,
              fill_color=cmap("obj"), line_color="#000000", line_width=2.5)
    p.scatter("risk", "ret", source=to_source([recomb]), marker="plus", size=40, angle=math.pi / 4,
              fill_color=cmap("obj"), line_color="#e6eef3", line_width=2)

    p.add_layout(Label(x=X_END - 0.0025, y=Y_END - 0.0023, text=PANEL_TAGS[idx],
                       text_align="right", text_baseline="top", text_font=FONT,
                       text_font_size="37px", text_color=INK))
    return p


# one tall figure holding the three stacked colour bars (segment 2 = panel a, ... 0 = panel c)
def make_colorbars():
    cb = figure(width=CBAR_W, height=H_A + H_B + H_C, x_range=Range1d(0, 1), y_range=Range1d(0, 3),
                output_backend="svg", toolbar_location=None,
                x_axis_location=None, y_axis_location=None,
                min_border_left=47, min_border_right=CBAR_W - 47 - 18,
                min_border_top=TOP_A, min_border_bottom=BOTTOM_C,
                background_fill_color="white", border_fill_color="white",
                outline_line_color="#1a1a1a", outline_line_width=1.5)
    cb.grid.visible = False
    frac = np.linspace(0, 1, len(PALETTE) + 1)
    span = CB_HIGH - CB_LOW
    ticks = []
    for seg in range(3):
        cb.quad(left=0, right=1, bottom=seg + frac[:-1], top=seg + frac[1:],
                fill_color=PALETTE, line_color=PALETTE, line_width=1)
        cb.quad(left=0, right=1, bottom=seg, top=seg + 1, fill_color=None,
                line_color="#1a1a1a", line_width=1.5)
        ticks += [seg + (v - CB_LOW) / span for v in CB_TICKS]
    ax = LinearAxis()
    style_axis(ax, ticks, 14, 9)
    ax.major_tick_line_width = 1.5
    ax.formatter = CustomJSTickFormatter(
        args=dict(low=CB_LOW, high=CB_HIGH),
        code="const f = tick - Math.floor(tick + 1e-9); return (low + f * (high - low)).toFixed(2);")
    cb.add_layout(ax, "right")
    return cb


def make_cb_title(height, top, bottom):
    t = figure(width=TITLE_W, height=height, x_range=Range1d(0, 1), y_range=Range1d(0, 1),
               output_backend="svg", toolbar_location=None,
               x_axis_location=None, y_axis_location="left",
               min_border_left=60, min_border_right=0, min_border_top=top, min_border_bottom=bottom,
               outline_line_color=None, background_fill_color="white", border_fill_color="white")
    t.grid.visible = False
    ax = t.yaxis[0]
    ax.ticker = FixedTicker(ticks=[])
    ax.major_tick_out = 0
    ax.major_tick_in = 0
    ax.minor_tick_line_color = None
    ax.major_tick_line_color = None
    ax.axis_line_color = None
    ax.axis_label = CB_LABEL
    ax.axis_label_standoff = 12
    ax.axis_label_text_font = FONT
    ax.axis_label_text_font_size = "40px"
    ax.axis_label_text_font_style = "normal"
    ax.axis_label_text_color = INK
    return t


# ---------------- legend strip ----------------
lf = figure(width=PANEL_W + CBAR_W + TITLE_W, height=176, x_range=Range1d(0, 1), y_range=Range1d(0, 1),
            output_backend="svg", toolbar_location=None,
            x_axis_location=None, y_axis_location=None, min_border=0,
            outline_line_color=None, background_fill_color="white", border_fill_color="white")
lf.grid.visible = False
proxy_src = to_source([GLOBAL_REF])
r_bf = lf.scatter("risk", "ret", source=proxy_src, marker="circle",
                  fill_color="#5f6f7c", line_color="#52616d", visible=False)
r_rs = lf.scatter("risk", "ret", source=proxy_src, marker="square",
                  fill_color="#cf9b72", line_color="#b98a66", visible=False)
r_gr = lf.scatter("risk", "ret", source=proxy_src, marker="star",
                  fill_color="#123650", line_color="#000000", line_width=2.5, visible=False)
r_rc = lf.scatter("risk", "ret", source=proxy_src, marker="x",
                  line_color="#24465f", line_width=9, visible=False)


def make_legend(items, loc, standoff, glyph):
    return Legend(items=items, location=loc, orientation="vertical",
                  glyph_width=glyph, glyph_height=glyph, label_height=glyph, spacing=0,
                  label_standoff=standoff, padding=5, margin=0,
                  border_line_color=None, background_fill_alpha=0, inactive_fill_alpha=0,
                  label_text_font=FONT, label_text_font_size="41px", label_text_color=INK)


lf.add_layout(make_legend([LegendItem(label=SERIES_LABELS[0], renderers=[r_bf]),
                           LegendItem(label=SERIES_LABELS[1], renderers=[r_rs])], (63, 22), 41, 53))
lf.add_layout(make_legend([LegendItem(label=SERIES_LABELS[2], renderers=[r_gr])], (600, 61), 33, 80))
lf.add_layout(make_legend([LegendItem(label=SERIES_LABELS[3], renderers=[r_rc])], (600, 8), 33, 80))

# ---------------- assemble ----------------
pa = make_panel(0, H_A, TOP_A, 0, False)
pb = make_panel(1, H_B, 0, 0, False)
pc = make_panel(2, H_C, 0, BOTTOM_C, True)
cbars = make_colorbars()
titles = column(make_cb_title(H_A, TOP_A, 0), make_cb_title(H_B, 0, 0), make_cb_title(H_C, 0, BOTTOM_C),
                spacing=0)

body = row(column(pa, pb, pc, spacing=0), cbars, titles, spacing=0)
TOTAL_W = PANEL_W + CBAR_W + TITLE_W
TOTAL_H = 30 + 176 + H_A + H_B + H_C

left_band = Div(text="", width=20, height=TOTAL_H, margin=0, styles={"background-color": DARK})
top_band = Div(text="", width=TOTAL_W, height=30, margin=0, styles={"background-color": DARK})

page = row(left_band, column(top_band, lf, body, spacing=0), spacing=0)

open("out.html", "w").write(file_html(page, INLINE))
